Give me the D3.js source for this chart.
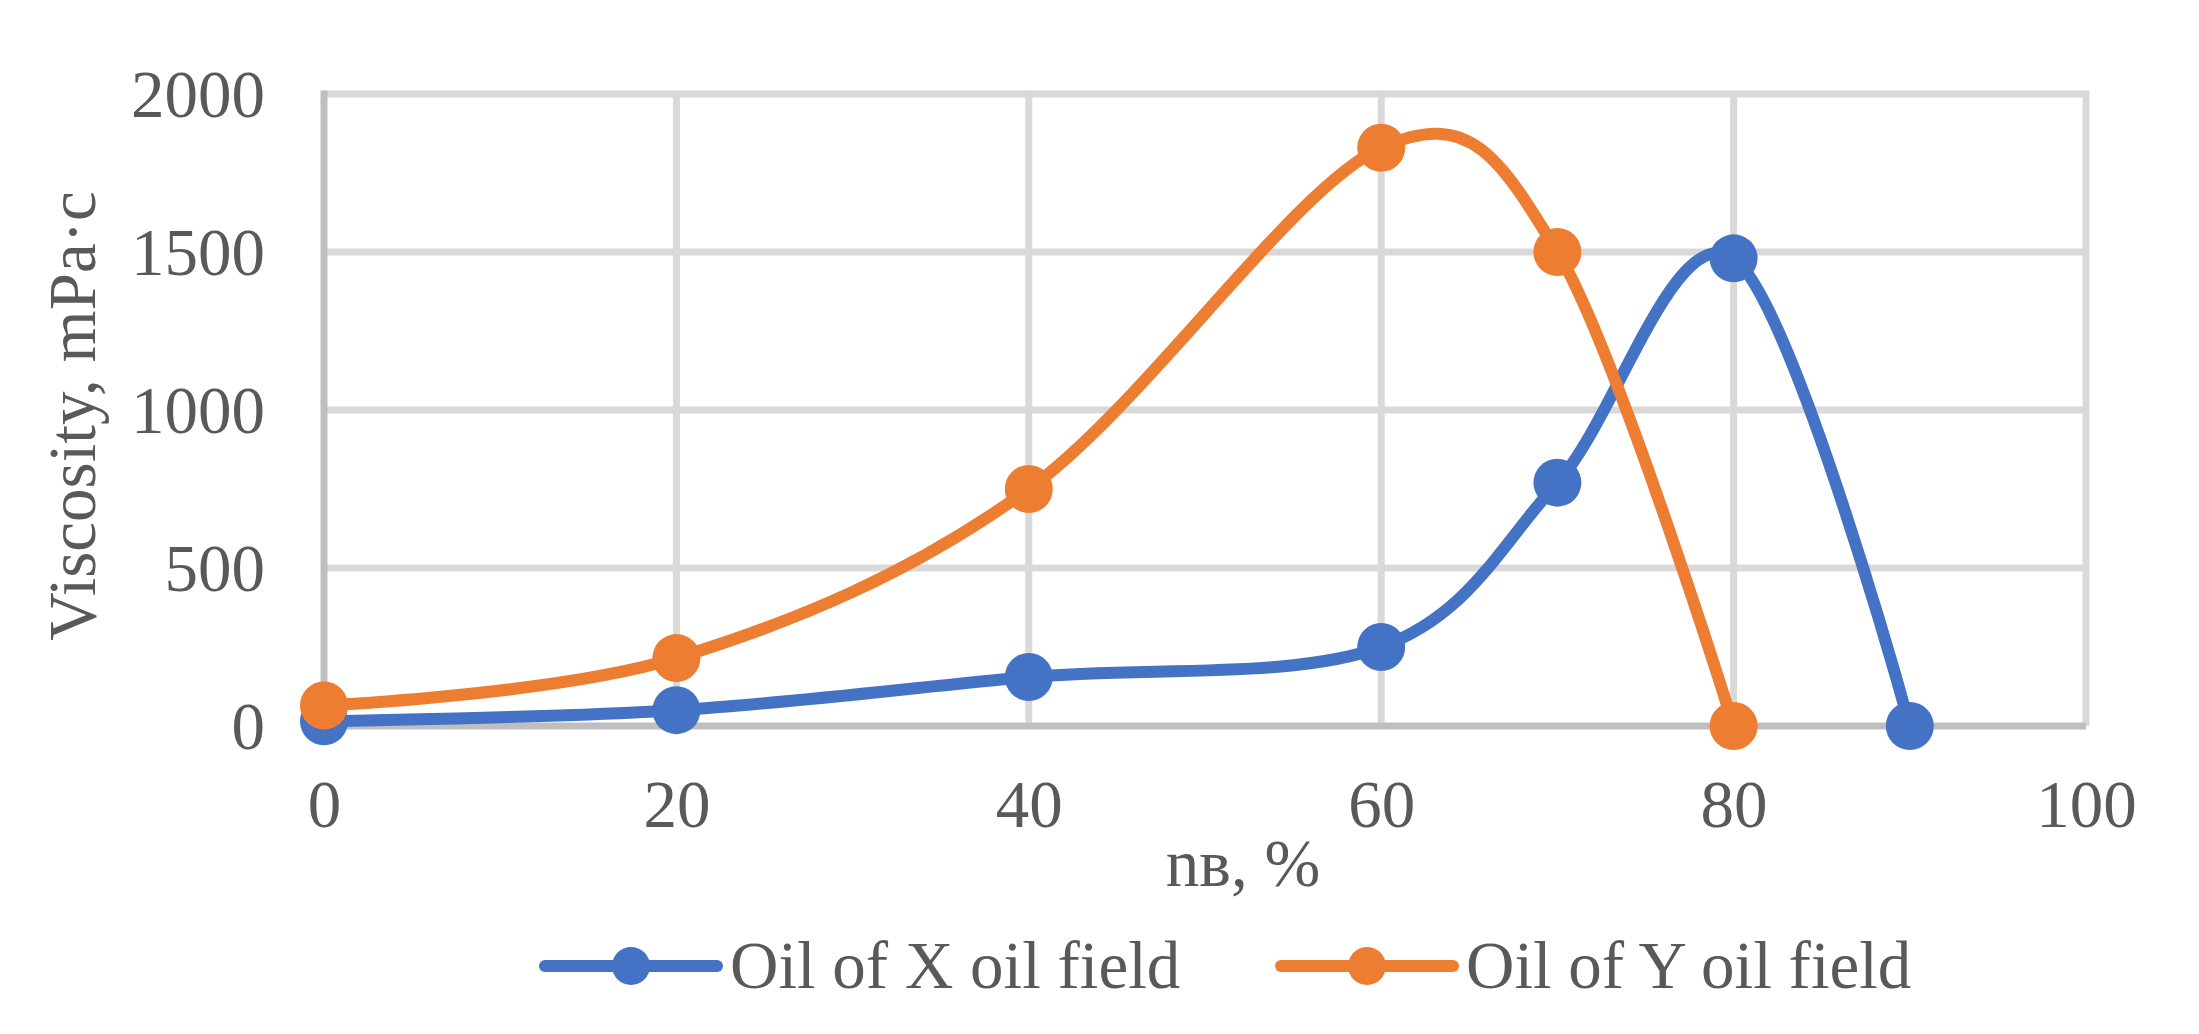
<!DOCTYPE html>
<html>
<head>
<meta charset="utf-8">
<script src="https://cdn.jsdelivr.net/npm/d3@7"></script>
<style>
  body { margin: 0; background: #fff; }
  text { font-family: "Liberation Serif", "Times New Roman", serif; fill: #595959; }
</style>
</head>
<body>
<div id="chart"></div>
<script>
// water cut vs viscosity, two fields
const seriesNames = ['Oil of X oil field', 'Oil of Y oil field'];
const seriesColors = ['#4472C4', '#ED7D31'];
const xFieldWater = [0, 20, 40, 60, 70, 80, 90];
const xFieldVisc = [15, 50, 155, 250, 770, 1480, 0];
const yFieldWater = [0, 20, 40, 60, 70, 80];
const yFieldVisc = [65, 215, 750, 1830, 1500, 0];
const xTicks = [0, 20, 40, 60, 80, 100];
const yTicks = [0, 500, 1000, 1500, 2000];

const width = 2199;
const height = 1034;
const margin = { top: 94, right: 113, bottom: 308, left: 324 };
const fontSize = 67;

const svg = d3.select('#chart')
  .append('svg')
  .attr('width', width)
  .attr('height', height);

const x = d3.scaleLinear()
  .domain([0, 100])
  .range([margin.left, width - margin.right]);

const y = d3.scaleLinear()
  .domain([0, 2000])
  .range([height - margin.bottom, margin.top]);

// gridlines
svg.append('g')
  .selectAll('line')
  .data(yTicks.slice(1))
  .join('line')
    .attr('x1', x(0)).attr('x2', x(100))
    .attr('y1', d => y(d)).attr('y2', d => y(d))
    .attr('stroke', '#d9d9d9').attr('stroke-width', 7);

svg.append('g')
  .selectAll('line')
  .data(xTicks.slice(1))
  .join('line')
    .attr('x1', d => x(d)).attr('x2', d => x(d))
    .attr('y1', y(2000) - 3.5).attr('y2', y(0))
    .attr('stroke', '#d9d9d9').attr('stroke-width', 7);

// axes (labels only, lines drawn below)
function xAxis(g) {
  g.attr('transform', `translate(0,${y(0)})`)
    .call(d3.axisBottom(x).tickValues(xTicks).tickFormat(d3.format('d')).tickSize(0).tickPadding(0))
    .call(g => g.select('.domain').remove())
    .call(g => g.selectAll('text').attr('y', 101).attr('dy', 0)
      .attr('font-size', fontSize).attr('fill', '#595959'));
}

function yAxis(g) {
  g.attr('transform', `translate(${x(0)},0)`)
    .call(d3.axisLeft(y).tickValues(yTicks).tickFormat(d3.format('d')).tickSize(0).tickPadding(59))
    .call(g => g.select('.domain').remove())
    .call(g => g.selectAll('text').attr('dy', '0.33em')
      .attr('font-size', fontSize).attr('fill', '#595959'));
}

svg.append('g').call(xAxis);
svg.append('g').call(yAxis);

svg.append('line')
  .attr('x1', x(0)).attr('x2', x(100)).attr('y1', y(0)).attr('y2', y(0))
  .attr('stroke', '#bfbfbf').attr('stroke-width', 7);
svg.append('line')
  .attr('x1', x(0)).attr('x2', x(0)).attr('y1', y(2000) - 3.5).attr('y2', y(0))
  .attr('stroke', '#bfbfbf').attr('stroke-width', 7);

// titles
svg.append('text')
  .attr('x', 1243).attr('y', 886)
  .attr('text-anchor', 'middle').attr('font-size', fontSize)
  .text('nв, %');

svg.append('text')
  .attr('transform', 'translate(95,416) rotate(-90)')
  .attr('text-anchor', 'middle').attr('font-size', fontSize)
  .text('Viscosity, mPa·c');

// series
const series = [
  { name: seriesNames[0], color: seriesColors[0], pts: xFieldWater.map((w, i) => [w, xFieldVisc[i]]) },
  { name: seriesNames[1], color: seriesColors[1], pts: yFieldWater.map((w, i) => [w, yFieldVisc[i]]) }
];

const line = d3.line()
  .x(d => x(d[0]))
  .y(d => y(d[1]))
  .curve(d3.curveCatmullRom.alpha(0));

series.forEach(s => {
  const g = svg.append('g');
  g.append('path')
    .attr('d', line(s.pts))
    .attr('fill', 'none')
    .attr('stroke', s.color)
    .attr('stroke-width', 12)
    .attr('stroke-linecap', 'round')
    .attr('stroke-linejoin', 'round');
  g.selectAll('circle')
    .data(s.pts)
    .join('circle')
      .attr('cx', d => x(d[0]))
      .attr('cy', d => y(d[1]))
      .attr('r', 24)
      .attr('fill', s.color);
});

// legend
const legendX = [545, 1281];
const legend = svg.append('g');
series.forEach((s, i) => {
  const lg = legend.append('g').attr('transform', `translate(${legendX[i]},966)`);
  lg.append('line')
    .attr('x1', 0).attr('x2', 172).attr('y1', 0).attr('y2', 0)
    .attr('stroke', s.color).attr('stroke-width', 12).attr('stroke-linecap', 'round');
  lg.append('circle')
    .attr('cx', 86).attr('cy', 0).attr('r', 19).attr('fill', s.color);
  lg.append('text')
    .attr('x', 185).attr('y', 22)
    .attr('font-size', fontSize)
    .text(s.name);
});
</script>
</body>
</html>
